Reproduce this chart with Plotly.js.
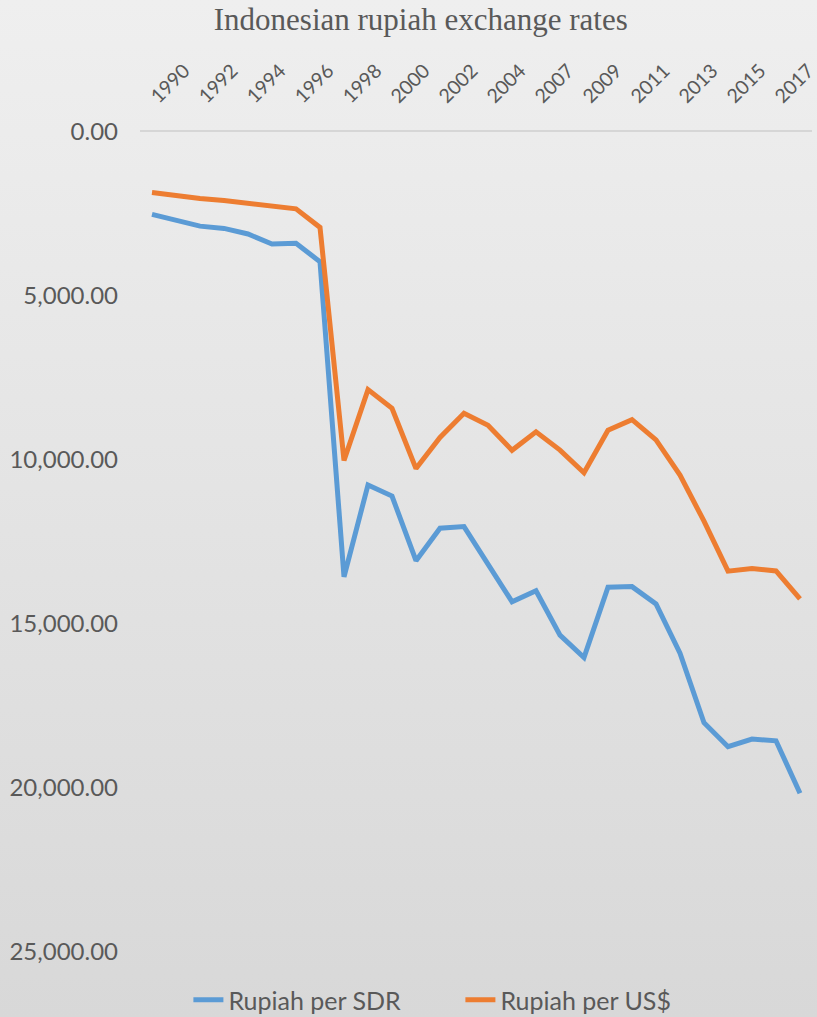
<!DOCTYPE html>
<html>
<head>
<meta charset="utf-8">
<script src="https://cdn.plot.ly/plotly-3.0.1.min.js"></script>
<style>
html, body { margin: 0; padding: 0; }
#wrap { width: 817px; height: 1017px; background: linear-gradient(to bottom, #efefef 0%, #d8d8d8 100%); }
#chart { width: 817px; height: 1017px; }
</style>
</head>
<body>
<div id="wrap"><div id="chart"></div></div>
<script>
// Categories (the source data skips 2006)
const years = ['1990','1991','1992','1993','1994','1995','1996','1997','1998','1999',
  '2000','2001','2002','2003','2004','2005','2007','2008','2009','2010','2011',
  '2012','2013','2014','2015','2016','2017','2018'];
const rupiahPerSDR = [2510, 2690, 2870, 2940, 3110, 3415, 3395, 3954, 13560, 10760,
  11100, 13070, 12080, 12030, 13200, 14320, 13985, 15340, 16020, 13880, 13860,
  14390, 15890, 18010, 18740, 18510, 18560, 20160];
const rupiahPerUSD = [1843, 1950, 2030, 2087, 2161, 2249, 2342, 2909, 10014, 7855,
  8422, 10261, 9311, 8577, 8939, 9705, 9141, 9699, 10390, 9090, 8770,
  9387, 10461, 11865, 13389, 13308, 13381, 14237];
const xTickLabels = ['1990','1992','1994','1996','1998','2000','2002','2004',
  '2007','2009','2011','2013','2015','2017'];
const yTicks = [0, 5000, 10000, 15000, 20000, 25000];

const traces = [
  { x: years, y: rupiahPerSDR, type: 'scatter', mode: 'lines', name: 'Rupiah per SDR',
    line: { color: '#5B9BD5', width: 5 } },
  { x: years, y: rupiahPerUSD, type: 'scatter', mode: 'lines', name: 'Rupiah per US$',
    line: { color: '#ED7D31', width: 5 } }
];

const layout = {
  width: 817, height: 1017,
  paper_bgcolor: 'rgba(0,0,0,0)', plot_bgcolor: 'rgba(0,0,0,0)',
  margin: { l: 140, r: 5, t: 132, b: 65 },
  title: { text: 'Indonesian rupiah exchange rates', x: 0.515, xanchor: 'center',
    yref: 'container', y: 0.981, yanchor: 'middle',
    font: { family: 'Liberation Serif, serif', size: 31, color: '#595959' } },
  xaxis: {
    type: 'category', side: 'top', range: [-0.5, 27.5],
    tickmode: 'array', tickvals: xTickLabels, ticktext: xTickLabels,
    tickangle: -45, ticks: '', showgrid: false, zeroline: false,
    showline: true, linecolor: '#d6d6d6', linewidth: 2,
    ticklabelstandoff: 15, automargin: false,
    tickfont: { family: 'Lato, sans-serif', size: 19.5, color: '#595959' }
  },
  yaxis: {
    autorange: false, range: [25000, 0],
    tickmode: 'array', tickvals: yTicks, tickformat: ',.2f',
    showgrid: false, zeroline: false, showline: false, ticks: '',
    ticklabelstandoff: 21, automargin: false,
    tickfont: { family: 'Lato, sans-serif', size: 24, color: '#595959' }
  },
  showlegend: true,
  legend: { orientation: 'h', xref: 'container', yref: 'container',
    x: 0.2306, xanchor: 'left', y: 0.0167, yanchor: 'middle',
    entrywidth: 227, entrywidthmode: 'pixels',
    font: { family: 'Lato, sans-serif', size: 25, color: '#595959' },
    bgcolor: 'rgba(0,0,0,0)', itemwidth: 30 }
};

Plotly.newPlot('chart', traces, layout, { displayModeBar: false, staticPlot: true });
</script>
</body>
</html>
